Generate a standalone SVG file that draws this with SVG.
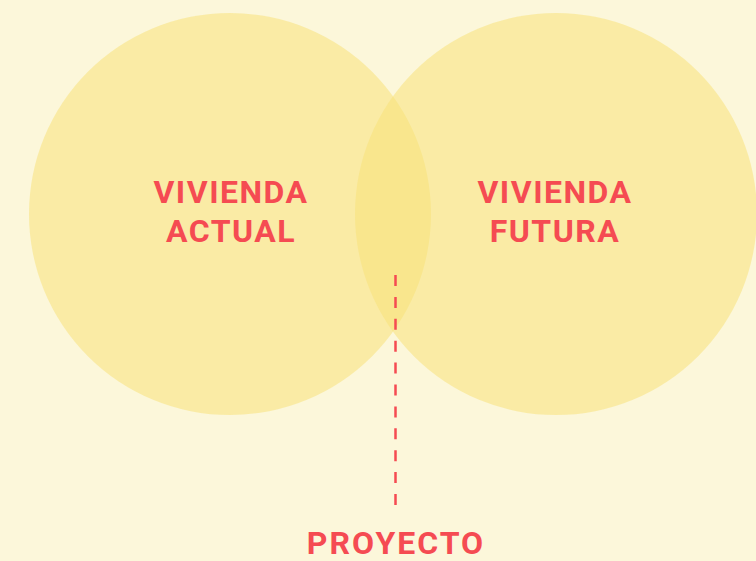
<svg xmlns="http://www.w3.org/2000/svg" width="756" height="561" viewBox="0 0 756 561">
<style>
.c{fill:#F7E27A;fill-opacity:0.55}
.t{font-family:Roboto,"Liberation Sans",sans-serif;font-weight:700;font-size:32px;fill:#F54B52;text-anchor:middle;letter-spacing:1.5px}
</style>
<rect width="756" height="561" fill="#FCF7DA"/>
<g id="actual">
<circle class="c" cx="230" cy="214" r="201"/>
<text class="t" x="231" y="203">VIVIENDA</text>
<text class="t" x="231" y="242">ACTUAL</text>
</g>
<g id="futura">
<circle class="c" cx="556" cy="214" r="201"/>
<text class="t" x="555" y="203">VIVIENDA</text>
<text class="t" x="555" y="242">FUTURA</text>
</g>
<g id="connectors">
<line x1="395.5" y1="275" x2="395.5" y2="505" stroke="#F54B52" stroke-width="2.5" stroke-dasharray="11 10.9"/>
</g>
<g id="proyecto">
<text class="t" x="396" y="554" style="letter-spacing:2px">PROYECTO</text>
</g>
</svg>
